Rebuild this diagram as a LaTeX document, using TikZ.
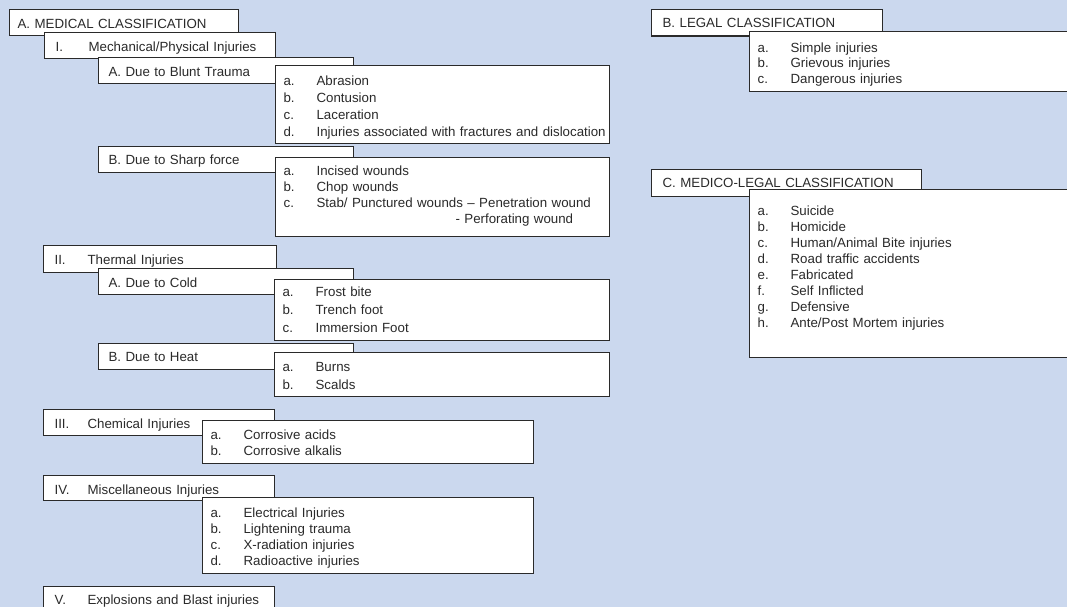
\documentclass[tikz,border=0pt]{standalone}
\usepackage{fontspec}
\setmainfont{Liberation Sans}
\definecolor{bgblue}{RGB}{203,216,238}
\definecolor{inkgray}{RGB}{42,42,42}
\newcommand{\listline}[2]{\mbox{\makebox[33pt][l]{#1}#2}}
\newcommand{\romhead}[2]{\mbox{\makebox[33pt][l]{#1}#2}}
\begin{document}
\begin{tikzpicture}[x=1pt, y=-1pt,
    every node/.style={font=\fontsize{13.3}{16}\selectfont, text=inkgray},
    hdr/.style={draw=inkgray, line width=1.2pt, fill=white, anchor=north west,
        inner ysep=0pt, align=left, text height=18.5pt, text depth=7.5pt},
    listbox/.style={draw=inkgray, line width=1.2pt, fill=white, anchor=north west,
        inner xsep=8pt, inner ysep=0pt, align=left,
        font=\fontsize{13.3}{#1}\selectfont},
    listbox/.default=16pt]

        % Page
        \useasboundingbox (0,0) rectangle (1067,607);
        \fill[bgblue] (0,0) rectangle (1067,607);
        \clip (0,0) rectangle (1067,607);

        % A. Medical classification
        \node[hdr, inner xsep=8pt, text width=213pt] (medical) at (9,9) {A. MEDICAL CLASSIFICATION};

        % I. Mechanical
        \node[hdr, inner xsep=11pt, text width=209pt] (mech) at (44,32) {\romhead{I.}{Mechanical/Physical Injuries}};
        \node[hdr, inner xsep=10pt, text width=235pt] (blunt) at (98,57) {A. Due to Blunt Trauma};
        \node[listbox=16.8pt, text width=318pt, text height=20.4pt, text depth=57.6pt] (bluntlist) at (275,65)
            {\listline{a.}{Abrasion}\\ \listline{b.}{Contusion}\\ \listline{c.}{Laceration}\\
             \listline{d.}{Injuries associated with fractures and dislocation}};
        \node[hdr, inner xsep=10pt, text width=235pt] (sharp) at (98,145.5) {B. Due to Sharp force};
        \node[listbox=16.1pt, text width=318pt, text height=18pt, text depth=61pt] (sharplist) at (275,157)
            {\listline{a.}{Incised wounds}\\ \listline{b.}{Chop wounds}\\
             \listline{c.}{Stab/ Punctured wounds – Penetration wound}\\
             \listline{}{\hspace{139pt}- Perforating wound}};

        % II. Thermal
        \node[hdr, inner xsep=11pt, text width=211pt, text depth=8.5pt] (thermal) at (43,245) {\romhead{II.}{Thermal Injuries}};
        \node[hdr, inner xsep=10pt, text width=235pt] (cold) at (98,268) {A. Due to Cold};
        \node[listbox=18pt, text width=319pt, text height=17pt, text depth=44pt] (coldlist) at (274,279)
            {\listline{a.}{Frost bite}\\ \listline{b.}{Trench foot}\\ \listline{c.}{Immersion Foot}};
        \node[hdr, inner xsep=10pt, text width=235pt] (heat) at (98,342.5) {B. Due to Heat};
        \node[listbox=18pt, text width=319pt, text height=18.7pt, text depth=25.3pt] (heatlist) at (274,352)
            {\listline{a.}{Burns}\\ \listline{b.}{Scalds}};

        % III. Chemical
        \node[hdr, inner xsep=11pt, text width=209pt] (chemical) at (43,409) {\romhead{III.}{Chemical Injuries}};
        \node[listbox=15.7pt, text width=315pt, text height=19.3pt, text depth=23.7pt] (chemlist) at (202,420)
            {\listline{a.}{Corrosive acids}\\ \listline{b.}{Corrosive alkalis}};

        % IV. Miscellaneous
        \node[hdr, inner xsep=11pt, text width=209pt, text depth=6.5pt] (misc) at (43,475) {\romhead{IV.}{Miscellaneous Injuries}};
        \node[listbox=15.9pt, text width=315pt, text height=19.7pt, text depth=56.3pt] (misclist) at (202,497)
            {\listline{a.}{Electrical Injuries}\\ \listline{b.}{Lightening trauma}\\
             \listline{c.}{X-radiation injuries}\\ \listline{d.}{Radioactive injuries}};

        % V. Explosions
        \node[hdr, inner xsep=11pt, text width=209pt, text height=18pt, text depth=30pt] (blast) at (43,586) {\romhead{V.}{Explosions and Blast injuries}};

        % B. Legal classification
        \node[hdr, inner xsep=11pt, text width=209pt, text height=18pt, text depth=8.4pt] (legal) at (651,9) {B. LEGAL CLASSIFICATION};
        \node[listbox=15.7pt, text width=314pt, text height=20.7pt, text depth=39.3pt] (legallist) at (749,31)
            {\listline{a.}{Simple injuries}\\ \listline{b.}{Grievous injuries}\\ \listline{c.}{Dangerous injuries}};

        % C. Medico-legal classification
        \node[hdr, inner xsep=11pt, text width=248pt, text height=18.3pt, text depth=8.4pt] (medlegal) at (651,169) {C. MEDICO-LEGAL CLASSIFICATION};
        \node[listbox=16pt, text width=314pt, text height=26pt, text depth=142pt] (medlegallist) at (749,189)
            {\listline{a.}{Suicide}\\ \listline{b.}{Homicide}\\ \listline{c.}{Human/Animal Bite injuries}\\
             \listline{d.}{Road traffic accidents}\\ \listline{e.}{Fabricated}\\ \listline{f.}{Self Inflicted}\\
             \listline{g.}{Defensive}\\ \listline{h.}{Ante/Post Mortem injuries}};

\end{tikzpicture}
\end{document}
